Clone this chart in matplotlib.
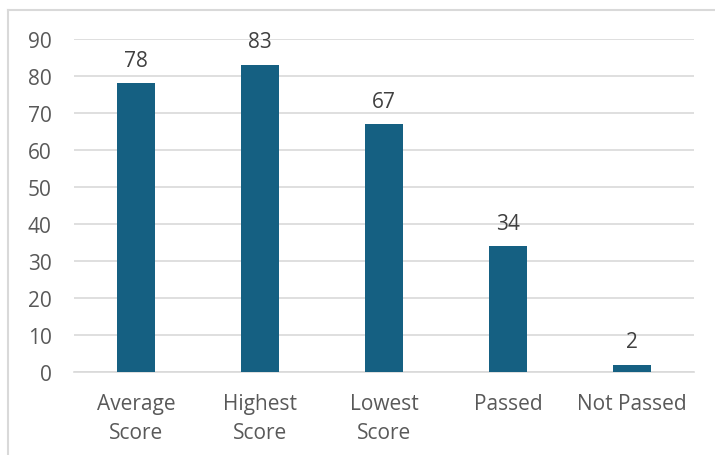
import matplotlib.pyplot as plt
from matplotlib.lines import Line2D

categories = ["Average\nScore", "Highest\nScore", "Lowest\nScore", "Passed", "Not Passed"]
values = [78, 83, 67, 34, 2]
yticks = [0, 10, 20, 30, 40, 50, 60, 70, 80, 90]

BAR = "#156082"
TXT = "#595959"
GRID = "#D9D9D9"
FS = 15

plt.rcParams['font.family'] = ['Open Sans', 'DejaVu Sans']

fig = plt.figure(figsize=(7.15, 4.56), dpi=100)
ax = fig.add_axes([74 / 715, 1 - 373 / 456, 620 / 715, 333 / 456])

x = range(len(categories))
bars = ax.bar(x, values, width=0.31, color=BAR, zorder=3)
for b, v in zip(bars, values):
    ax.annotate(str(v), (b.get_x() + b.get_width() / 2, v), xytext=(0, 9),
                textcoords="offset points", ha="center", va="bottom",
                fontsize=FS, color="#404040")

ax.set_xlim(-0.5, len(categories) - 0.5)
ax.set_ylim(0, 90)
ax.set_yticks(yticks)
ax.set_xticks(list(x))
ax.set_xticklabels(categories, fontsize=FS, color=TXT, linespacing=1.5)
ax.tick_params(axis="y", labelsize=FS, labelcolor=TXT, length=0, pad=16)
ax.tick_params(axis="x", length=0, pad=15)
ax.grid(axis="y", color=GRID, linewidth=1.2, zorder=0)
for s in ["top", "right", "left"]:
    ax.spines[s].set_visible(False)
ax.spines["bottom"].set_color(GRID)
ax.spines["bottom"].set_linewidth(1.2)

# chart frame (top and left edges visible in the crop)
fig.add_artist(Line2D([8 / 715, 1], [1 - 11 / 456, 1 - 11 / 456], color="#D9D9D9", lw=1.5))
fig.add_artist(Line2D([8 / 715, 8 / 715], [0, 1 - 11 / 456], color="#D9D9D9", lw=1.5))

fig.savefig("out.png", dpi=100)
